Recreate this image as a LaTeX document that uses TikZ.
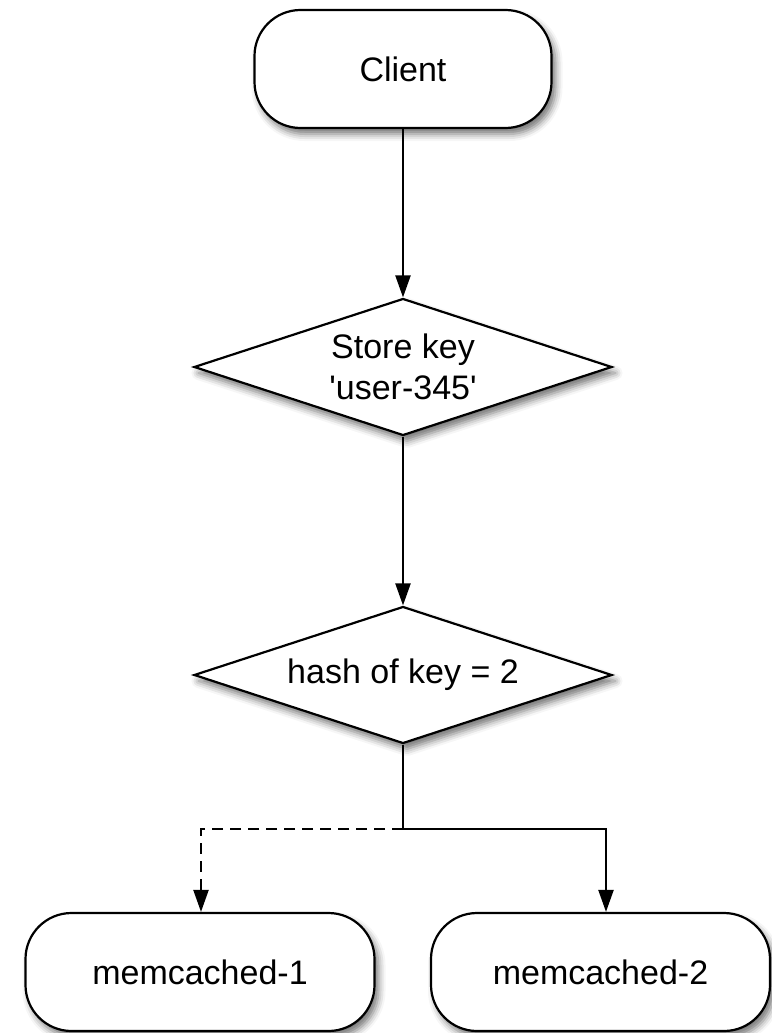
\documentclass[tikz,border=0pt]{standalone}
\usepackage{fontspec}
\setmainfont{Liberation Sans}
\usetikzlibrary{shapes.geometric,arrows.meta,shadows.blur}
\begin{document}
\begin{tikzpicture}[x=1pt,y=-1pt,
  every node/.style={font=\fontsize{34}{41}\selectfont, align=center, inner sep=0pt},
  sh/.style={blur shadow={shadow xshift=4pt, shadow yshift=-6pt, shadow blur radius=7pt, shadow opacity=55}},
  term/.style={draw, line width=2.2pt, rounded corners=46pt, fill=white, sh},
  decision/.style={draw, line width=2.2pt, shape=diamond, fill=white, sh, minimum width=418pt, minimum height=137pt, aspect=3.05},
  conn/.style={line width=2.2pt, -{Triangle[length=22pt,width=15pt]}},
  dashedconn/.style={conn, dash pattern=on 11pt off 7pt}
]
\useasboundingbox (0,0) rectangle (771,1033);
\node[term, minimum width=297pt, minimum height=118pt] (client) at (403,69) {Client};
\node[decision] (d1) at (403,367) {Store key\\\textquotesingle user-345\textquotesingle};
\node[decision] (d2) at (403,675) {hash of key = 2};
\node[term, minimum width=349pt, minimum height=118pt] (m1) at (200,972) {memcached-1};
\node[term, minimum width=339pt, minimum height=118pt] (m2) at (600.5,972) {memcached-2};
\coordinate (j) at (403,829);
\coordinate (jl) at (201,829);
\coordinate (jr) at (606,829);
\draw[conn] (client.south) -- (d1.north);
\draw[conn] (d1.south) -- (d2.north);
\draw[line width=2.2pt] (d2.south) -- (j);
\draw[conn] (j) -- (jr) -- (jr |- m2.north);
\draw[dashedconn] (j) -- (jl) -- (jl |- m1.north);
\end{tikzpicture}
\end{document}
